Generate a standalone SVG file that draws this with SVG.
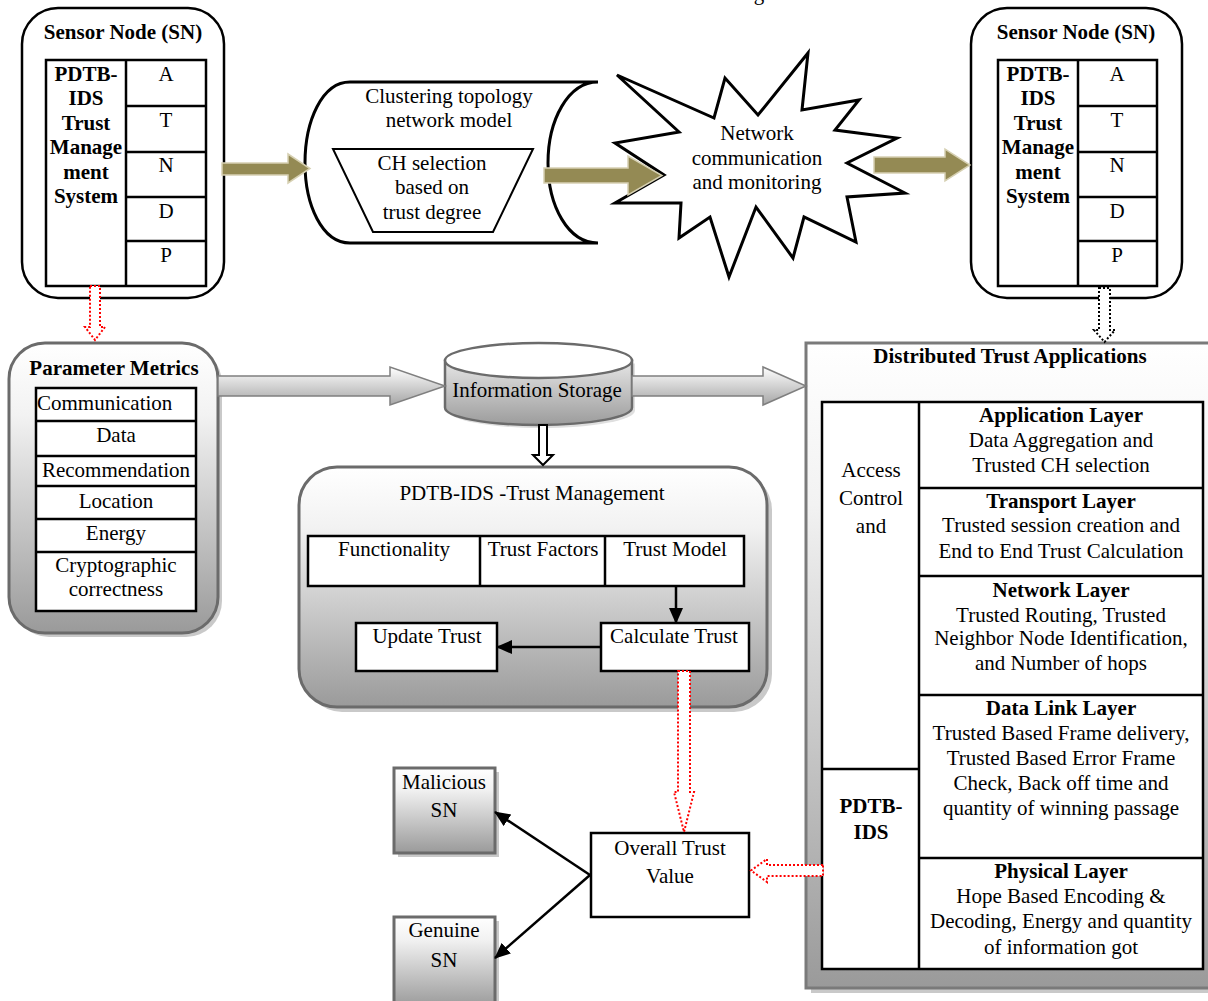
<svg xmlns="http://www.w3.org/2000/svg" width="1208" height="1001" viewBox="0 0 1208 1001">
<style>
text{font-family:"Liberation Serif","Times New Roman",serif;font-size:21px;fill:#000}
.b{font-weight:bold}
.c{text-anchor:middle}
.ln{fill:none;stroke:#000;stroke-width:2.5}
.wb{fill:#fff;stroke:#000;stroke-width:2.5}
.olive{fill:#948a54;stroke:#d6d0b2;stroke-width:1.5}
.garrow{fill:url(#gArrow);stroke:#7f7f7f;stroke-width:1.5}
.gbox{fill:url(#gV);stroke:#6b6b6b;stroke-width:3}
.shadow{fill:#c9c9c9}
.reddot{fill:#fff;stroke:#ff0000;stroke-width:2;stroke-dasharray:2 2}
.blkdot{fill:#fff;stroke:#000;stroke-width:2;stroke-dasharray:2 2}
</style>
<defs>
<linearGradient id="gV" x1="0" y1="0" x2="0" y2="1">
<stop offset="0" stop-color="#ffffff"/>
<stop offset="0.25" stop-color="#f2f2f2"/>
<stop offset="1" stop-color="#9a9a9a"/>
</linearGradient>
<linearGradient id="gArrow" x1="0" y1="0" x2="0" y2="1">
<stop offset="0" stop-color="#ffffff"/>
<stop offset="1" stop-color="#a6a6a6"/>
</linearGradient>
<linearGradient id="gCyl" x1="0" y1="0" x2="0" y2="1">
<stop offset="0" stop-color="#e6e6e6"/>
<stop offset="1" stop-color="#9c9c9c"/>
</linearGradient>
<marker id="ah" markerWidth="16" markerHeight="14" refX="15" refY="7" orient="auto" markerUnits="userSpaceOnUse">
<path d="M0,0 L16,7 L0,14 z" fill="#000"/>
</marker>
</defs>

<text x="759" y="0" class="c">g</text>

<g id="sensor-node-left">
<rect x="22" y="8" width="202" height="290" rx="36" class="wb"/>
<text x="123" y="39" class="b c">Sensor Node (SN)</text>
<rect x="46" y="60" width="160" height="226" class="wb"/>
<path d="M126,60 V286 M126,106 H206 M126,152 H206 M126,197 H206 M126,241 H206" class="ln"/>
<text x="86" y="81" class="b c">PDTB-</text>
<text x="86" y="105" class="b c">IDS</text>
<text x="86" y="130" class="b c">Trust</text>
<text x="86" y="154" class="b c">Manage</text>
<text x="86" y="179" class="b c">ment</text>
<text x="86" y="203" class="b c">System</text>
<text x="166" y="81" class="c">A</text>
<text x="166" y="127" class="c">T</text>
<text x="166" y="172" class="c">N</text>
<text x="166" y="218" class="c">D</text>
<text x="166" y="262" class="c">P</text>
</g>

<g id="clustering-model">
<path d="M350,82 L598,82 C568,82 548,120 548,163 C548,206 568,243 598,243 L350,243 C322,243 305,205 305,163 C305,121 322,82 350,82 z" fill="#fff" stroke="#000" stroke-width="3"/>
<text x="449" y="103" class="c">Clustering topology</text>
<text x="449" y="127" class="c">network model</text>
<polygon points="333,149 533,149 493,232 373,232" fill="#fff" stroke="#000" stroke-width="2"/>
<text x="432" y="170" class="c">CH selection</text>
<text x="432" y="194" class="c">based on</text>
<text x="432" y="219" class="c">trust degree</text>
</g>

<g id="network-communication">
<polygon points="617,75 714,118 725,78 758,115 808,53 802,110 859,100 835,130 897,138 847,163 905,193 847,197 856,242 804,217 793,258 756,207 729,277 710,217 679,238 681,203 615,203 664,175 615,143 679,132" fill="#fff" stroke="#000" stroke-width="3" stroke-linejoin="miter"/>
<text x="757" y="140" class="c">Network</text>
<text x="757" y="165" class="c">communication</text>
<text x="757" y="189" class="c">and monitoring</text>
</g>

<g id="sensor-node-right">
<rect x="971" y="8" width="211" height="290" rx="36" class="wb"/>
<text x="1076" y="39" class="b c">Sensor Node (SN)</text>
<rect x="998" y="60" width="159" height="226" class="wb"/>
<path d="M1078,60 V286 M1078,106 H1157 M1078,152 H1157 M1078,197 H1157 M1078,241 H1157" class="ln"/>
<text x="1038" y="81" class="b c">PDTB-</text>
<text x="1038" y="105" class="b c">IDS</text>
<text x="1038" y="130" class="b c">Trust</text>
<text x="1038" y="154" class="b c">Manage</text>
<text x="1038" y="179" class="b c">ment</text>
<text x="1038" y="203" class="b c">System</text>
<text x="1117" y="81" class="c">A</text>
<text x="1117" y="127" class="c">T</text>
<text x="1117" y="172" class="c">N</text>
<text x="1117" y="218" class="c">D</text>
<text x="1117" y="262" class="c">P</text>
</g>

<g id="parameter-metrics">
<rect x="13" y="347" width="209" height="290" rx="36" class="shadow"/>
<rect x="9" y="343" width="209" height="290" rx="36" class="gbox"/>
<text x="114" y="375" class="b c">Parameter Metrics</text>
<rect x="36" y="388" width="160" height="223" class="wb"/>
<path d="M36,421 H196 M36,456 H196 M36,486 H196 M36,519 H196 M36,552 H196" class="ln"/>
<text x="37" y="410">Communication</text>
<text x="116" y="442" class="c">Data</text>
<text x="116" y="477" class="c">Recommendation</text>
<text x="116" y="508" class="c">Location</text>
<text x="116" y="540" class="c">Energy</text>
<text x="116" y="572" class="c">Cryptographic</text>
<text x="116" y="596" class="c">correctness</text>
</g>

<g id="information-storage">
<path d="M445,360.5 V407.5 A93.5,17.5 0 0 0 632,407.5 V360.5" fill="#c0c0c0" opacity="0.5" transform="translate(3,3)"/>
<path d="M445,360.5 V407.5 A93.5,17.5 0 0 0 632,407.5 V360.5 z" fill="url(#gCyl)" stroke="#6b6b6b" stroke-width="2.5"/>
<ellipse cx="538.5" cy="360.5" rx="93.5" ry="17.5" fill="#fff" stroke="#6b6b6b" stroke-width="2.5"/>
<text x="537" y="397" class="c">Information Storage</text>
</g>

<g id="trust-management">
<rect x="304" y="472" width="468" height="240" rx="38" class="shadow"/>
<rect x="299" y="467" width="468" height="240" rx="38" class="gbox"/>
<text x="532" y="500" class="c">PDTB-IDS -Trust Management</text>
<rect x="308" y="536" width="436" height="50" class="wb"/>
<path d="M480,536 V586 M605,536 V586" class="ln"/>
<text x="394" y="556" class="c">Functionality</text>
<text x="543" y="556" class="c">Trust Factors</text>
<text x="675" y="556" class="c">Trust Model</text>
<g id="update-trust">
<rect x="356" y="623" width="141" height="48" class="wb"/>
<text x="427" y="643" class="c">Update Trust</text>
</g>
<g id="calculate-trust">
<rect x="601" y="623" width="148" height="48" class="wb"/>
<text x="674" y="643" class="c">Calculate Trust</text>
</g>
</g>

<g id="distributed-trust-applications">
<rect x="811" y="348" width="420" height="645" class="shadow"/>
<rect x="806" y="343" width="420" height="645" fill="url(#gV)" stroke="#7a7a7a" stroke-width="3"/>
<text x="1010" y="363" class="b c">Distributed Trust Applications</text>
<rect x="822" y="402" width="381" height="567" class="wb"/>
<path d="M919,402 V969 M919,488 H1203 M919,576 H1203 M919,695 H1203 M919,858 H1203 M822,769 H919" class="ln"/>
<text x="871" y="477" class="c">Access</text>
<text x="871" y="505" class="c">Control</text>
<text x="871" y="533" class="c">and</text>
<text x="871" y="813" class="b c">PDTB-</text>
<text x="871" y="839" class="b c">IDS</text>
<text x="1061" y="422" class="b c">Application Layer</text>
<text x="1061" y="447" class="c">Data Aggregation and</text>
<text x="1061" y="472" class="c">Trusted CH selection</text>
<text x="1061" y="508" class="b c">Transport Layer</text>
<text x="1061" y="532" class="c">Trusted session creation and</text>
<text x="1061" y="558" class="c">End to End Trust Calculation</text>
<text x="1061" y="597" class="b c">Network Layer</text>
<text x="1061" y="622" class="c">Trusted Routing, Trusted</text>
<text x="1061" y="645" class="c">Neighbor Node Identification,</text>
<text x="1061" y="670" class="c">and Number of hops</text>
<text x="1061" y="715" class="b c">Data Link Layer</text>
<text x="1061" y="740" class="c">Trusted Based Frame delivery,</text>
<text x="1061" y="765" class="c">Trusted Based Error Frame</text>
<text x="1061" y="790" class="c">Check, Back off time and</text>
<text x="1061" y="815" class="c">quantity of winning passage</text>
<text x="1061" y="878" class="b c">Physical Layer</text>
<text x="1061" y="903" class="c">Hope Based Encoding &amp;</text>
<text x="1061" y="928" class="c">Decoding, Energy and quantity</text>
<text x="1061" y="954" class="c">of information got</text>
</g>

<g id="overall-trust-value">
<rect x="591" y="833" width="158" height="84" class="wb"/>
<text x="670" y="855" class="c">Overall Trust</text>
<text x="670" y="883" class="c">Value</text>
</g>

<g id="malicious-sn">
<rect x="398" y="772" width="101" height="85" class="shadow"/>
<rect x="394" y="768" width="101" height="85" class="gbox"/>
<text x="444" y="789" class="c">Malicious</text>
<text x="444" y="817" class="c">SN</text>
</g>

<g id="genuine-sn">
<rect x="398" y="921" width="101" height="90" class="shadow"/>
<rect x="394" y="917" width="101" height="90" class="gbox"/>
<text x="444" y="937" class="c">Genuine</text>
<text x="444" y="967" class="c">SN</text>
</g>

<g id="connectors">
<polygon class="olive" points="222,163 288,163 288,154 310,168.5 288,183 288,175 222,175"/>
<polygon class="olive" points="544,168 628,168 628,156 662,175.5 628,195 628,183 544,183"/>
<polygon class="olive" points="874,157 945,157 945,149 970,165 945,181 945,173 874,173"/>
<polygon class="reddot" points="90,286 100,286 100,327 105,327 95,340 85,327 90,327"/>
<polygon class="blkdot" points="1099,288 1110,288 1110,330 1115,330 1104.5,342 1094,330 1099,330"/>
<polygon class="garrow" points="218,376 390,376 390,367 445,386 390,405 390,396 218,396"/>
<polygon class="garrow" points="632,376 763,376 763,367 806,386 763,405 763,396 632,396"/>
<polygon points="539,425 547,425 547,455 553,455 543,465 533,455 539,455" fill="#fff" stroke="#000" stroke-width="2"/>
<line x1="676" y1="586" x2="676" y2="623" stroke="#000" stroke-width="2.5" marker-end="url(#ah)"/>
<line x1="601" y1="647" x2="497" y2="647" stroke="#000" stroke-width="2.5" marker-end="url(#ah)"/>
<polygon class="reddot" points="678,671 690,671 690,792 694,792 684,832 674,792 678,792"/>
<polygon class="reddot" points="823,865 767,865 767,859 751,870.5 767,882 767,876 823,876"/>
<line x1="590" y1="875" x2="495" y2="812" stroke="#000" stroke-width="2.5" marker-end="url(#ah)"/>
<line x1="590" y1="875" x2="495" y2="958" stroke="#000" stroke-width="2.5" marker-end="url(#ah)"/>
</g>
</svg>
